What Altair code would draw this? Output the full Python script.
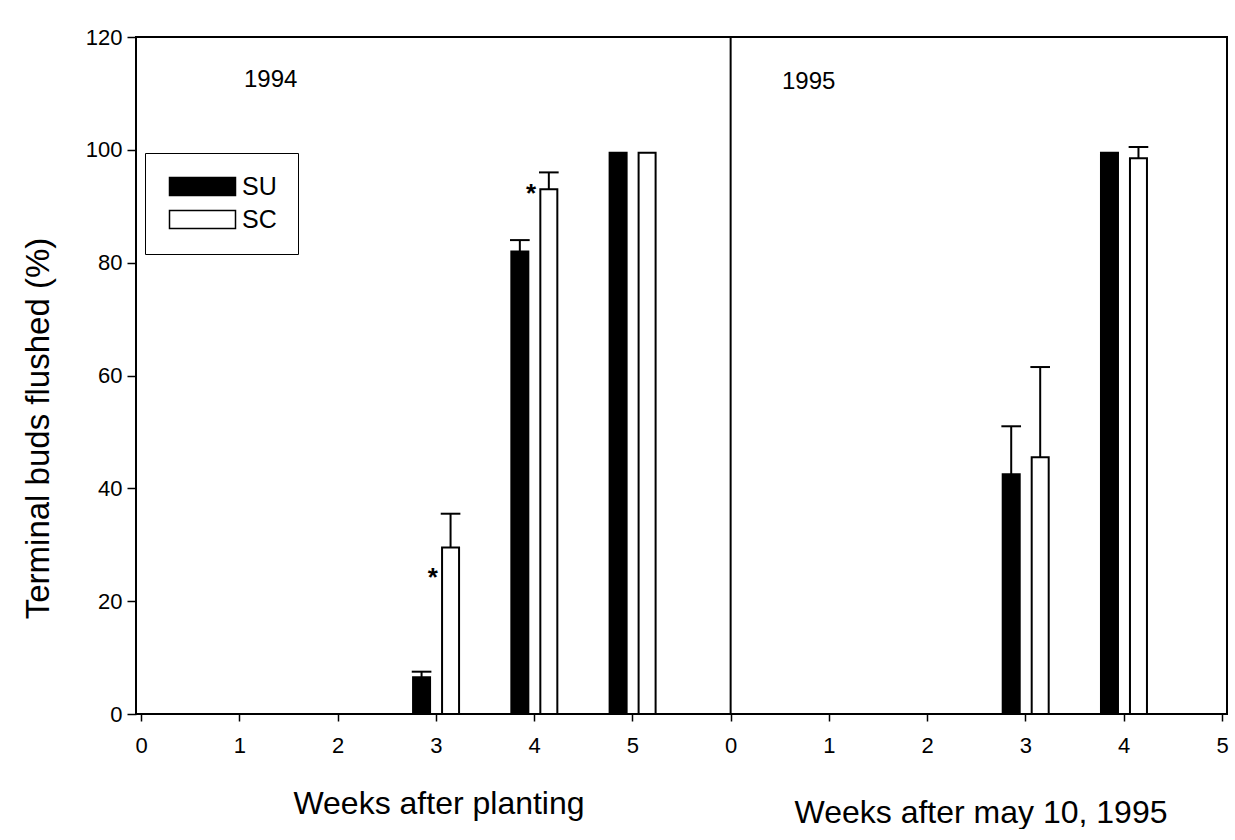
import altair as alt
import pandas as pd

# Terminal buds flushed (%) by week, treatment means and upper standard errors
treatments = ["SU", "SC"]

weeks_1994 = [3, 4, 5]
su_1994 = [6.5, 82, 99.5]
su_1994_se = [1, 2, 0]
sc_1994 = [29.5, 93, 99.5]
sc_1994_se = [6, 3, 0]

weeks_1995 = [3, 4]
su_1995 = [42.5, 99.5]
su_1995_se = [8.5, 0]
sc_1995 = [45.5, 98.5]
sc_1995_se = [16, 2]

# significant SU/SC differences (1994)
sig_weeks = [3, 4]
sig_levels = [25, 93]

y_ticks = [0, 20, 40, 60, 80, 100, 120]
# one shared axis: 0-5 for 1994, 6-11 for 1995 (relabelled 0-5)
x_ticks = list(range(0, 12))

rows = []
for year, weeks, su, su_se, sc, sc_se in [
    ("1994", weeks_1994, su_1994, su_1994_se, sc_1994, sc_1994_se),
    ("1995", weeks_1995, su_1995, su_1995_se, sc_1995, sc_1995_se),
]:
    for i, w in enumerate(weeks):
        rows.append(dict(year=year, week=w, treatment="SU", value=su[i], se=su_se[i]))
        rows.append(dict(year=year, week=w, treatment="SC", value=sc[i], se=sc_se[i]))
df = pd.DataFrame(rows)
sig = pd.DataFrame({"week": sig_weeks, "level": sig_levels})

FONT = "Liberation Sans"

x_scale = alt.Scale(domain=[0, 11], nice=False, zero=False)
y_scale = alt.Scale(domain=[0, 120], nice=False)

x_axis = alt.Axis(
    values=x_ticks, format="d",
    labelExpr="datum.value >= 6 ? '' + (datum.value - 6) : datum.label",
    title=None, grid=False, domain=False, tickSize=7, tickWidth=1.5,
    tickColor="black", labelPadding=14, labelFontSize=22, labelFont=FONT,
    labelColor="black", labelFlush=False, labelOverlap=False, orient="bottom",
)
y_axis = alt.Axis(
    values=y_ticks, title="Terminal buds flushed (%)", grid=False, domain=False,
    tickSize=9, tickWidth=1.5, tickColor="black", labelPadding=5,
    labelFontSize=22, labelFont=FONT, labelColor="black",
    titleFontSize=33, titleFont=FONT, titleFontWeight="normal",
    titleColor="black", titlePadding=30, titleY=391, orient="left",
)


def X(field):
    return alt.X(field, type="quantitative", scale=x_scale, axis=x_axis)


def Y(field):
    return alt.Y(field, type="quantitative", scale=y_scale, axis=y_axis)


base = alt.Chart(df).transform_calculate(
    pos="datum.week + (datum.year == '1995' ? 6 : 0)"
    " + (datum.treatment == 'SU' ? -0.145 : 0.15)",
    top="datum.value + datum.se",
)

bars = base.mark_bar(size=17, stroke="black", strokeWidth=2).encode(
    x=X("pos"),
    y=Y("value"),
    color=alt.Color(
        "treatment:N",
        scale=alt.Scale(domain=treatments, range=["black", "white"]),
        legend=alt.Legend(
            orient="none", legendX=9, legendY=116, title=None,
            symbolType="M-1,-1H6.333V1H-1Z", symbolSize=324, labelOffset=51,
        ),
    ),
)

err = base.transform_filter("datum.se > 0")
stems = err.mark_rule(color="black", strokeWidth=2).encode(
    x=X("pos"), y=Y("value"), y2="top:Q"
)
caps = err.transform_calculate(
    lo="datum.pos - 0.1", hi="datum.pos + 0.1"
).mark_rule(color="black", strokeWidth=2).encode(
    x=X("lo"), x2="hi:Q", y=Y("top")
)

stars = alt.Chart(sig).transform_calculate(
    pos="datum.week - 0.03"
).mark_text(
    text="*", fontSize=26, fontWeight="bold", font=FONT, color="black",
    baseline="middle", dy=5,
).encode(x=X("pos"), y=Y("level"))

divider = alt.Chart(pd.DataFrame({"edge": [6]})).mark_rule(
    color="black", strokeWidth=2
).encode(x=X("edge"))

one = pd.DataFrame({"k": [0]})


def label(text, px, py, size, align="left", baseline="middle"):
    return alt.Chart(one).mark_text(
        align=align, baseline=baseline, fontSize=size, font=FONT, color="black",
        text=text,
    ).encode(x=alt.value(px), y=alt.value(py))


year_1994 = label("1994", 108, 43, 24)
year_1995 = label("1995", 646, 45, 24)
title_1994 = label("Weeks after planting", 303, 777, 32, "center", "alphabetic")
title_1995 = label("Weeks after may 10, 1995", 845, 786, 32, "center", "alphabetic")

chart = alt.layer(
    bars, stems, caps, stars, divider, year_1994, year_1995, title_1994, title_1995
).properties(
    width=1091, height=677,
    padding={"left": 22, "top": 26, "right": 0, "bottom": 0},
    background="white",
).configure_view(
    stroke="black", strokeWidth=2
).configure_legend(
    fillColor="white", strokeColor="black", padding=21, rowPadding=7,
    labelFontSize=25, labelFont=FONT, labelColor="black",
    symbolStrokeColor="black", symbolStrokeWidth=1.5, symbolOpacity=1,
)

chart.save("out.html", embed_options={"renderer": "svg", "actions": False})
